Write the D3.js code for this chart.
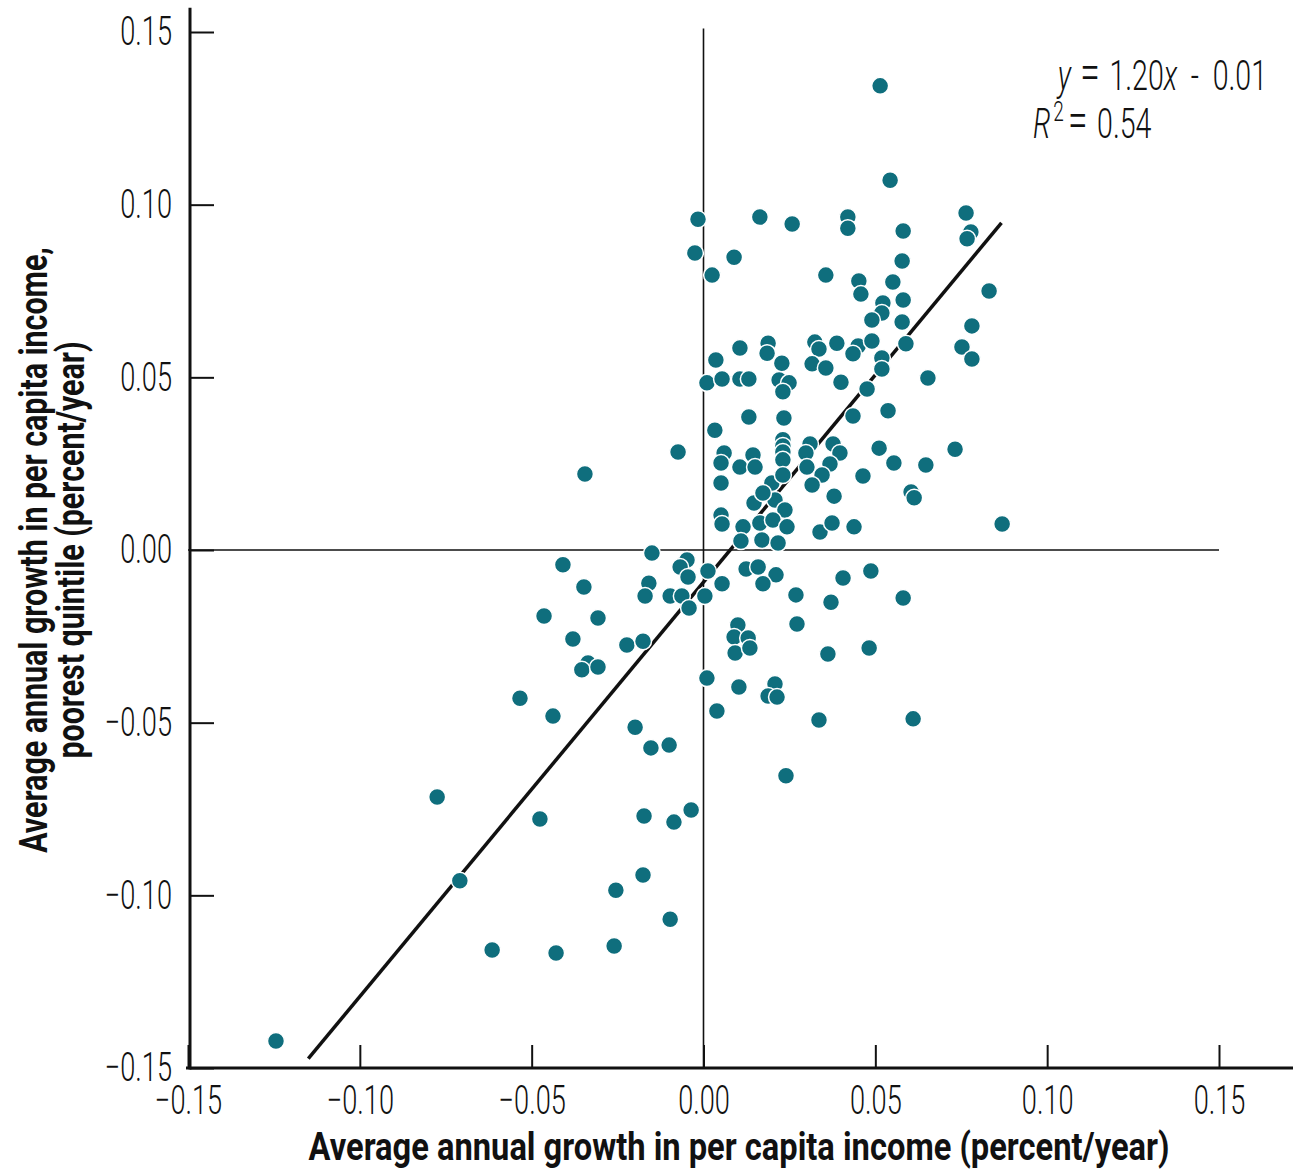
<!DOCTYPE html>
<html>
<head>
<meta charset="utf-8">
<script src="https://cdn.jsdelivr.net/npm/d3@7"></script>
<style>
  body { margin: 0; background: #fff; }
  svg { display: block; }
  text { font-family: Roboto, "Liberation Sans", sans-serif; fill: #111; }
</style>
</head>
<body>
<svg id="chart"></svg>
<script>
// average annual growth in per capita income (x) and in poorest quintile (y)
const meanGrowth = [
  0.0514, 0.0543, -0.0016, 0.0164, 0.0258, -0.0025, 0.0089, 0.0025, 0.0420, 0.0420,
  0.0581, 0.0764, 0.0778, 0.0767, 0.0356, 0.0452, 0.0458, 0.0551, 0.0578, 0.0581,
  0.0831, 0.0522, 0.0519, 0.0490, 0.0578, 0.0781, 0.0106, 0.0036, 0.0010, 0.0054,
  0.0106, 0.0132, 0.0132, 0.0033, -0.0074, 0.0060, 0.0051, 0.0106, 0.0144, 0.0150,
  0.0051, 0.0147, 0.0051, 0.0054, 0.0115, 0.0109, 0.0188, 0.0185, 0.0228, 0.0324,
  0.0336, 0.0388, 0.0450, 0.0435, 0.0490, 0.0519, 0.0519, 0.0316, 0.0356, 0.0400,
  0.0220, 0.0249, 0.0231, 0.0476, 0.0537, 0.0435, 0.0234, 0.0231, 0.0231, 0.0231,
  0.0231, 0.0310, 0.0298, 0.0377, 0.0397, 0.0301, 0.0368, 0.0345, 0.0511, 0.0554,
  0.0464, 0.0199, 0.0231, 0.0316, 0.0208, 0.0380, 0.0237, 0.0173, 0.0164, 0.0202,
  0.0243, 0.0170, 0.0217, 0.0339, 0.0374, 0.0438, 0.0589, 0.0752, 0.0781, 0.0653,
  0.0732, 0.0647, 0.0604, 0.0613, 0.0869, -0.0345, -0.0409, -0.0348, -0.0464, -0.0307,
  -0.0380, -0.0223, -0.0336, -0.0354, -0.0307, -0.0534, -0.0150, -0.0048, -0.0068, -0.0045,
  0.0013, 0.0054, -0.0159, -0.0170, -0.0097, -0.0063, 0.0004, -0.0042, 0.0124, 0.0159,
  0.0211, 0.0173, 0.0100, 0.0089, 0.0130, 0.0092, 0.0135, -0.0176, 0.0010, 0.0103,
  0.0208, 0.0188, 0.0214, 0.0039, 0.0406, 0.0487, 0.0269, 0.0371, 0.0581, 0.0272,
  0.0362, 0.0482, 0.0336, 0.0610, 0.0240, -0.0438, -0.0199, -0.0153, -0.0100, -0.0775,
  -0.0476, -0.0173, -0.0086, -0.0036, -0.0709, -0.0255, -0.0176, -0.0097, -0.0615, -0.0429,
  -0.0260, -0.1244
];
const poorGrowth = [
  0.1344, 0.1071, 0.0958, 0.0964, 0.0944, 0.0860, 0.0848, 0.0796, 0.0964, 0.0932,
  0.0924, 0.0976, 0.0921, 0.0901, 0.0796, 0.0779, 0.0741, 0.0776, 0.0837, 0.0724,
  0.0750, 0.0715, 0.0686, 0.0666, 0.0660, 0.0649, 0.0585, 0.0550, 0.0484, 0.0495,
  0.0495, 0.0495, 0.0385, 0.0347, 0.0284, 0.0281, 0.0252, 0.0240, 0.0275, 0.0240,
  0.0194, 0.0136, 0.0101, 0.0075, 0.0067, 0.0026, 0.0599, 0.0570, 0.0541, 0.0602,
  0.0582, 0.0599, 0.0591, 0.0568, 0.0605, 0.0556, 0.0524, 0.0539, 0.0527, 0.0486,
  0.0492, 0.0484, 0.0458, 0.0466, 0.0403, 0.0388, 0.0382, 0.0319, 0.0301, 0.0284,
  0.0261, 0.0307, 0.0281, 0.0307, 0.0281, 0.0240, 0.0249, 0.0217, 0.0295, 0.0252,
  0.0214, 0.0194, 0.0217, 0.0188, 0.0145, 0.0156, 0.0116, 0.0165, 0.0078, 0.0087,
  0.0067, 0.0029, 0.0020, 0.0052, 0.0078, 0.0067, 0.0597, 0.0588, 0.0553, 0.0498,
  0.0292, 0.0246, 0.0168, 0.0151, 0.0075, 0.0220, -0.0043, -0.0107, -0.0191, -0.0197,
  -0.0258, -0.0275, -0.0327, -0.0347, -0.0339, -0.0429, -0.0009, -0.0029, -0.0049, -0.0078,
  -0.0061, -0.0098, -0.0096, -0.0133, -0.0133, -0.0133, -0.0133, -0.0168, -0.0055, -0.0049,
  -0.0072, -0.0098, -0.0217, -0.0252, -0.0255, -0.0298, -0.0284, -0.0264, -0.0371, -0.0397,
  -0.0388, -0.0423, -0.0426, -0.0466, -0.0081, -0.0061, -0.0130, -0.0151, -0.0139, -0.0214,
  -0.0301, -0.0284, -0.0492, -0.0489, -0.0654, -0.0481, -0.0513, -0.0573, -0.0565, -0.0715,
  -0.0779, -0.0770, -0.0788, -0.0753, -0.0958, -0.0985, -0.0941, -0.1069, -0.1158, -0.1167,
  -0.1147, -0.1422
];
const xTicks = [-0.15, -0.10, -0.05, 0.00, 0.05, 0.10, 0.15];
const yTicks = [-0.15, -0.10, -0.05, 0.00, 0.05, 0.10, 0.15];
const fitSlope = 1.20;
const fitIntercept = -0.0093;
const fitXRange = [-0.115, 0.0867];
const xTitle = 'Average annual growth in per capita income (percent/year)';
const yTitle = ['Average annual growth in per capita income,', 'poorest quintile (percent/year)'];

const W = 1293, H = 1169;
const dotColor = '#0f6e7d';
const narrow = 0.68;

const svg = d3.select('#chart').attr('width', W).attr('height', H);

const x = d3.scaleLinear().domain([-0.15, 0.15]).range([188, 1219]);
const y = d3.scaleLinear().domain([-0.15, 0.15]).range([1068, 32]);

// zero reference lines
svg.append('line')
  .attr('x1', x(0)).attr('x2', x(0))
  .attr('y1', y(0.151)).attr('y2', y(-0.15))
  .attr('stroke', '#111').attr('stroke-width', 1.6);
svg.append('line')
  .attr('x1', x(-0.15)).attr('x2', x(0.15))
  .attr('y1', y(0)).attr('y2', y(0))
  .attr('stroke', '#111').attr('stroke-width', 1.6);

// x axis
const gx = svg.append('g')
  .attr('transform', `translate(0,${y(-0.15)})`)
  .call(d3.axisBottom(x).tickValues(xTicks).tickFormat(d3.format('.2f'))
    .tickSizeInner(-23).tickSizeOuter(0).tickPadding(18));
gx.select('.domain').remove();
gx.selectAll('.tick line').attr('stroke', '#111').attr('stroke-width', 2);
gx.selectAll('.tick text')
  .attr('font-size', 40).attr('font-weight', 300).attr('fill', '#111')
  .attr('transform', `scale(${narrow},1)`);
gx.append('line')
  .attr('x1', x(-0.15) - 2).attr('x2', W)
  .attr('stroke', '#111').attr('stroke-width', 3);

// y axis
const gy = svg.append('g')
  .attr('transform', `translate(${x(-0.15) + 2},0)`)
  .call(d3.axisLeft(y).tickValues(yTicks).tickFormat(d3.format('.2f'))
    .tickSizeInner(-24).tickSizeOuter(0).tickPadding(18));
gy.select('.domain').remove();
gy.selectAll('.tick line').attr('stroke', '#111').attr('stroke-width', 2);
gy.selectAll('.tick text')
  .attr('font-size', 40).attr('font-weight', 300).attr('fill', '#111')
  .attr('x', 0)
  .attr('transform', `translate(-18,0) scale(${narrow},1)`);
gy.append('line')
  .attr('y1', y(0.157)).attr('y2', y(-0.15) + 1.5)
  .attr('stroke', '#111').attr('stroke-width', 3);

// regression line
svg.append('line')
  .attr('x1', x(fitXRange[0])).attr('y1', y(fitSlope * fitXRange[0] + fitIntercept))
  .attr('x2', x(fitXRange[1])).attr('y2', y(fitSlope * fitXRange[1] + fitIntercept))
  .attr('stroke', '#111').attr('stroke-width', 3.5);

// points
svg.append('g')
  .selectAll('circle')
  .data(d3.zip(meanGrowth, poorGrowth))
  .join('circle')
    .attr('cx', d => x(d[0]))
    .attr('cy', d => y(d[1]))
    .attr('r', 8.5)
    .attr('fill', dotColor)
    .attr('stroke', '#fff')
    .attr('stroke-width', 1.5);

// equation
const eq = svg.append('g').attr('transform', `translate(1267,0) scale(${narrow},1)`);
const l1 = eq.append('text').attr('y', 90).attr('text-anchor', 'end')
  .attr('font-size', 42).attr('font-weight', 300);
l1.append('tspan').attr('font-style', 'italic').text('y');
l1.append('tspan').attr('dx', 14).attr('font-size', 52).text('=');
l1.append('tspan').attr('dx', 14).text('1.20');
l1.append('tspan').attr('font-style', 'italic').text('x');
l1.append('tspan').attr('dx', 20).text('-');
l1.append('tspan').attr('dx', 20).text('0.01');
const l2 = svg.append('g').attr('transform', `translate(1033,0) scale(${narrow},1)`)
  .append('text').attr('y', 138).attr('font-size', 42).attr('font-weight', 300);
l2.append('tspan').attr('font-style', 'italic').text('R');
l2.append('tspan').attr('dx', 4).attr('dy', -17).attr('font-size', 28).text('2');
l2.append('tspan').attr('dx', 6).attr('dy', 17).attr('font-size', 52).text('=');
l2.append('tspan').attr('dx', 14).text('0.54');

// axis titles
svg.append('g').attr('transform', `translate(739,1160) scale(0.86,1)`)
  .append('text').attr('text-anchor', 'middle')
  .attr('font-size', 38).attr('font-weight', 700)
  .text(xTitle);

const yt = svg.append('g').attr('transform', `translate(0,${y(0)}) rotate(-90) scale(0.8,1)`);
yt.selectAll('text')
  .data(yTitle)
  .join('text')
    .attr('text-anchor', 'middle')
    .attr('y', (d, i) => 47 + i * 37)
    .attr('font-size', 38).attr('font-weight', 700)
    .text(d => d);
</script>
</body>
</html>
